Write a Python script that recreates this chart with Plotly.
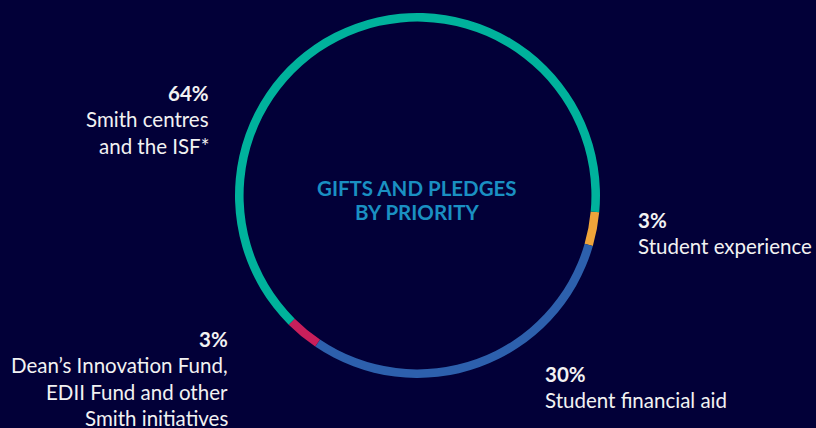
import plotly.graph_objects as go

# ---- data ----
categories = ["Student experience", "Student financial aid",
              "Dean’s Innovation Fund, EDII Fund and other Smith initiatives",
              "Smith centres and the ISF*"]
values = [3, 30, 3, 64]
colors = ["#f0a43a", "#2d60ad", "#c81f5b", "#00b29c"]
label_lines = [["Student experience"],
               ["Student financial aid"],
               ["Dean’s Innovation Fund,", "EDII Fund and other", "Smith initiatives"],
               ["Smith centres", "and the ISF*"]]
center_title = ["GIFTS AND PLEDGES", "BY PRIORITY"]

W, H = 816, 428
BG = "#020038"

fig = go.Figure(go.Pie(
    labels=categories, values=values, sort=False, direction="clockwise",
    rotation=95.3, hole=0.953, textinfo="none", hoverinfo="label+percent",
    marker=dict(colors=colors, line=dict(width=0)),
    domain=dict(x=[235 / W, 600 / W], y=[1 - 378 / H, 1 - 13 / H]),
    showlegend=False,
))

# label block placement (pixel anchor x, first baseline y, alignment)
blocks = [
    (636, 227, "left"),
    (543, 381, "left"),
    (230, 346, "right"),
    (211, 100, "right"),
]
LINE = 26.3
anns = []
for (bx, by, al), v, lines in zip(blocks, values, label_lines):
    rows = [(f"<b>{v}%</b>", 20.5)] + [(t, 20.5) for t in lines]
    for i, (t, fs) in enumerate(rows):
        base = by + i * LINE
        anns.append(dict(
            x=bx / W, y=1 - (base - 7) / H, xref="paper", yref="paper",
            text=t, showarrow=False, xanchor=al, yanchor="middle",
            align=al, font=dict(family="Lato", size=fs, color="#f2f2f2"),
        ))
for i, t in enumerate(center_title):
    base = 196 + i * 23.5
    anns.append(dict(
        x=417 / W, y=1 - (base - 8) / H, xref="paper", yref="paper",
        text=f"<b>{t}</b>", showarrow=False, xanchor="center", yanchor="middle",
        font=dict(family="Lato", size=20.5, color="#1a90c2"),
    ))

fig.update_layout(
    width=W, height=H, margin=dict(l=0, r=0, t=0, b=0),
    paper_bgcolor=BG, plot_bgcolor=BG, annotations=anns,
)
fig.write_html("out.html", config={"displayModeBar": False},
               post_script="document.body.style.margin='0';document.body.style.background='" + BG + "';")
